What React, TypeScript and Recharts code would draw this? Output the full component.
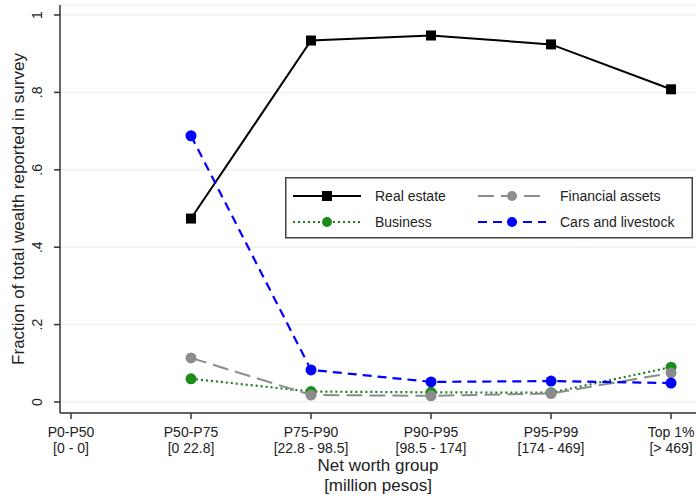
import React from "react";
import { LineChart, Line, XAxis, YAxis, CartesianGrid, Label } from "recharts";

const groups = ["P0-P50", "P50-P75", "P75-P90", "P90-P95", "P95-P99", "Top 1%"];
const ranges = ["[0 - 0]", "[0 22.8]", "[22.8 - 98.5]", "[98.5 - 174]", "[174 - 469]", "[> 469]"];
const realEstate = [null, 0.474, 0.934, 0.947, 0.924, 0.808];
const financialAssets = [null, 0.114, 0.018, 0.016, 0.022, 0.075];
const business = [null, 0.06, 0.027, 0.025, 0.024, 0.09];
const carsLivestock = [null, 0.688, 0.083, 0.052, 0.054, 0.049];
const yTicks = [0, 0.2, 0.4, 0.6, 0.8, 1];
const yTickLabels = ["0", ".2", ".4", ".6", ".8", "1"];

const data = groups.map((g, i) => ({
  x: i,
  re: realEstate[i],
  fa: financialAssets[i],
  bu: business[i],
  cl: carsLivestock[i],
}));

const FONT = "'Liberation Sans', Arial, Helvetica, sans-serif";

const series = [
  { key: "re", name: "Real estate", color: "#000000", dash: undefined, width: 2, marker: "square" },
  { key: "fa", name: "Financial assets", color: "#8c8c8c", dash: "16 7", width: 2, marker: "circle" },
  { key: "bu", name: "Business", color: "#1e7d1e", dash: "2 3", width: 2.2, marker: "circle" },
  { key: "cl", name: "Cars and livestock", color: "#0000ff", dash: "9 6", width: 2.2, marker: "circle" },
];

const markerColor: Record<string, string> = {
  re: "#000000",
  fa: "#8c8c8c",
  bu: "#1a8c1a",
  cl: "#0000ff",
};

const makeDot = (key: string, shape: string) => (props: any) => {
  const { cx, cy, value, index } = props;
  if (value == null || cx == null || cy == null || isNaN(cy)) return <g key={`${key}-${index}`} />;
  if (shape === "square")
    return <rect key={`${key}-${index}`} x={cx - 5} y={cy - 5} width={10} height={10} fill={markerColor[key]} />;
  return <circle key={`${key}-${index}`} cx={cx} cy={cy} r={5.5} fill={markerColor[key]} />;
};

const XTick = (props: any) => {
  const { x, y, payload } = props;
  const i = payload.value;
  return (
    <g>
      <line x1={x} y1={y - 8} x2={x} y2={y - 2} stroke="#333" strokeWidth={1.5} />
      <text x={x} y={y + 16} textAnchor="middle" fontSize={14} fill="#222" fontFamily={FONT}>
        {groups[i]}
      </text>
      <text x={x} y={y + 32} textAnchor="middle" fontSize={14} fill="#222" fontFamily={FONT}>
        {ranges[i]}
      </text>
    </g>
  );
};

const YTick = (props: any) => {
  const { x, y, payload } = props;
  const idx = yTicks.indexOf(payload.value);
  const tx = x - 10;
  return (
    <g>
      <text
        x={tx}
        y={y}
        transform={`rotate(-90 ${tx} ${y})`}
        textAnchor="middle"
        fontSize={14}
        fill="#222"
        fontFamily={FONT}
      >
        {idx >= 0 ? yTickLabels[idx] : payload.value}
      </text>
    </g>
  );
};

const Legend = () => {
  const rows = [
    [series[0], series[1]],
    [series[2], series[3]],
  ];
  return (
    <svg
      width={408}
      height={62}
      style={{ position: "absolute", left: 285, top: 177 }}
    >
      <rect x={0.75} y={0.75} width={406.5} height={60} fill="#ffffff" stroke="#444" strokeWidth={1.5} />
      {rows.map((row, r) =>
        row.map((s, c) => {
          const x0 = c === 0 ? 8 : 193;
          const y0 = r === 0 ? 19 : 45;
          const mid = x0 + 34;
          return (
            <g key={s.key}>
              <line
                x1={x0}
                y1={y0}
                x2={x0 + 68}
                y2={y0}
                stroke={s.color}
                strokeWidth={s.width}
                strokeDasharray={s.dash}
              />
              {s.marker === "square" ? (
                <rect x={mid - 5} y={y0 - 5} width={10} height={10} fill={markerColor[s.key]} />
              ) : (
                <circle cx={mid} cy={y0} r={5} fill={markerColor[s.key]} />
              )}
              <text x={x0 + 82} y={y0 + 5} fontSize={14} fill="#222" fontFamily={FONT}>
                {s.name}
              </text>
            </g>
          );
        })
      )}
    </svg>
  );
};

export default function App() {
  return (
    <div style={{ position: "absolute", left: 0, top: 0, width: 696, height: 499, background: "#fff" }}>
      <LineChart
        width={696}
        height={499}
        data={data}
        margin={{ top: 5, right: 0, left: 0, bottom: 36 }}
      >
        <CartesianGrid horizontal={true} vertical={false} stroke="#f1f1f1" strokeWidth={1.5} />
        <XAxis
          type="number"
          dataKey="x"
          domain={[-0.0917, 5.208]}
          ticks={[0, 1, 2, 3, 4, 5]}
          allowDataOverflow
          height={50}
          axisLine={{ stroke: "#333", strokeWidth: 1.5 }}
          tickLine={false}
          tick={<XTick />}
          interval={0}
        >
          <Label
            content={(p: any) => {
              const vb = p.viewBox;
              const cx = vb.x + vb.width / 2;
              return (
                <g>
                  <text x={cx} y={471} textAnchor="middle" fontSize={17} fill="#222" fontFamily={FONT}>
                    Net worth group
                  </text>
                  <text x={cx} y={491} textAnchor="middle" fontSize={17} fill="#222" fontFamily={FONT}>
                    [million pesos]
                  </text>
                </g>
              );
            }}
          />
        </XAxis>
        <YAxis
          type="number"
          domain={[-0.0284, 1.0258]}
          ticks={yTicks}
          allowDataOverflow
          width={60}
          axisLine={{ stroke: "#333", strokeWidth: 1.5 }}
          tickLine={{ stroke: "#333", strokeWidth: 1.5 }}
          tickSize={6}
          tick={<YTick />}
        >
          <Label
            content={(p: any) => {
              const vb = p.viewBox;
              const cy = vb.y + vb.height / 2;
              return (
                <text
                  x={24}
                  y={cy}
                  transform={`rotate(-90 24 ${cy})`}
                  textAnchor="middle"
                  fontSize={17}
                  fill="#222"
                  fontFamily={FONT}
                >
                  Fraction of total wealth reported in survey
                </text>
              );
            }}
          />
        </YAxis>
        <Line
          dataKey="re"
          stroke="#000"
          strokeWidth={2}
          isAnimationActive={false}
          dot={makeDot("re", "square")}
          activeDot={false}
        />
        <Line
          dataKey="bu"
          stroke="#1e7d1e"
          strokeWidth={2.2}
          strokeDasharray="2 3"
          isAnimationActive={false}
          dot={makeDot("bu", "circle")}
          activeDot={false}
        />
        <Line
          dataKey="fa"
          stroke="#8c8c8c"
          strokeWidth={2}
          strokeDasharray="16 7"
          isAnimationActive={false}
          dot={makeDot("fa", "circle")}
          activeDot={false}
        />
        <Line
          dataKey="cl"
          stroke="#0000ff"
          strokeWidth={2.2}
          strokeDasharray="9 6"
          isAnimationActive={false}
          dot={makeDot("cl", "circle")}
          activeDot={false}
        />
      </LineChart>
      <Legend />
    </div>
  );
}
